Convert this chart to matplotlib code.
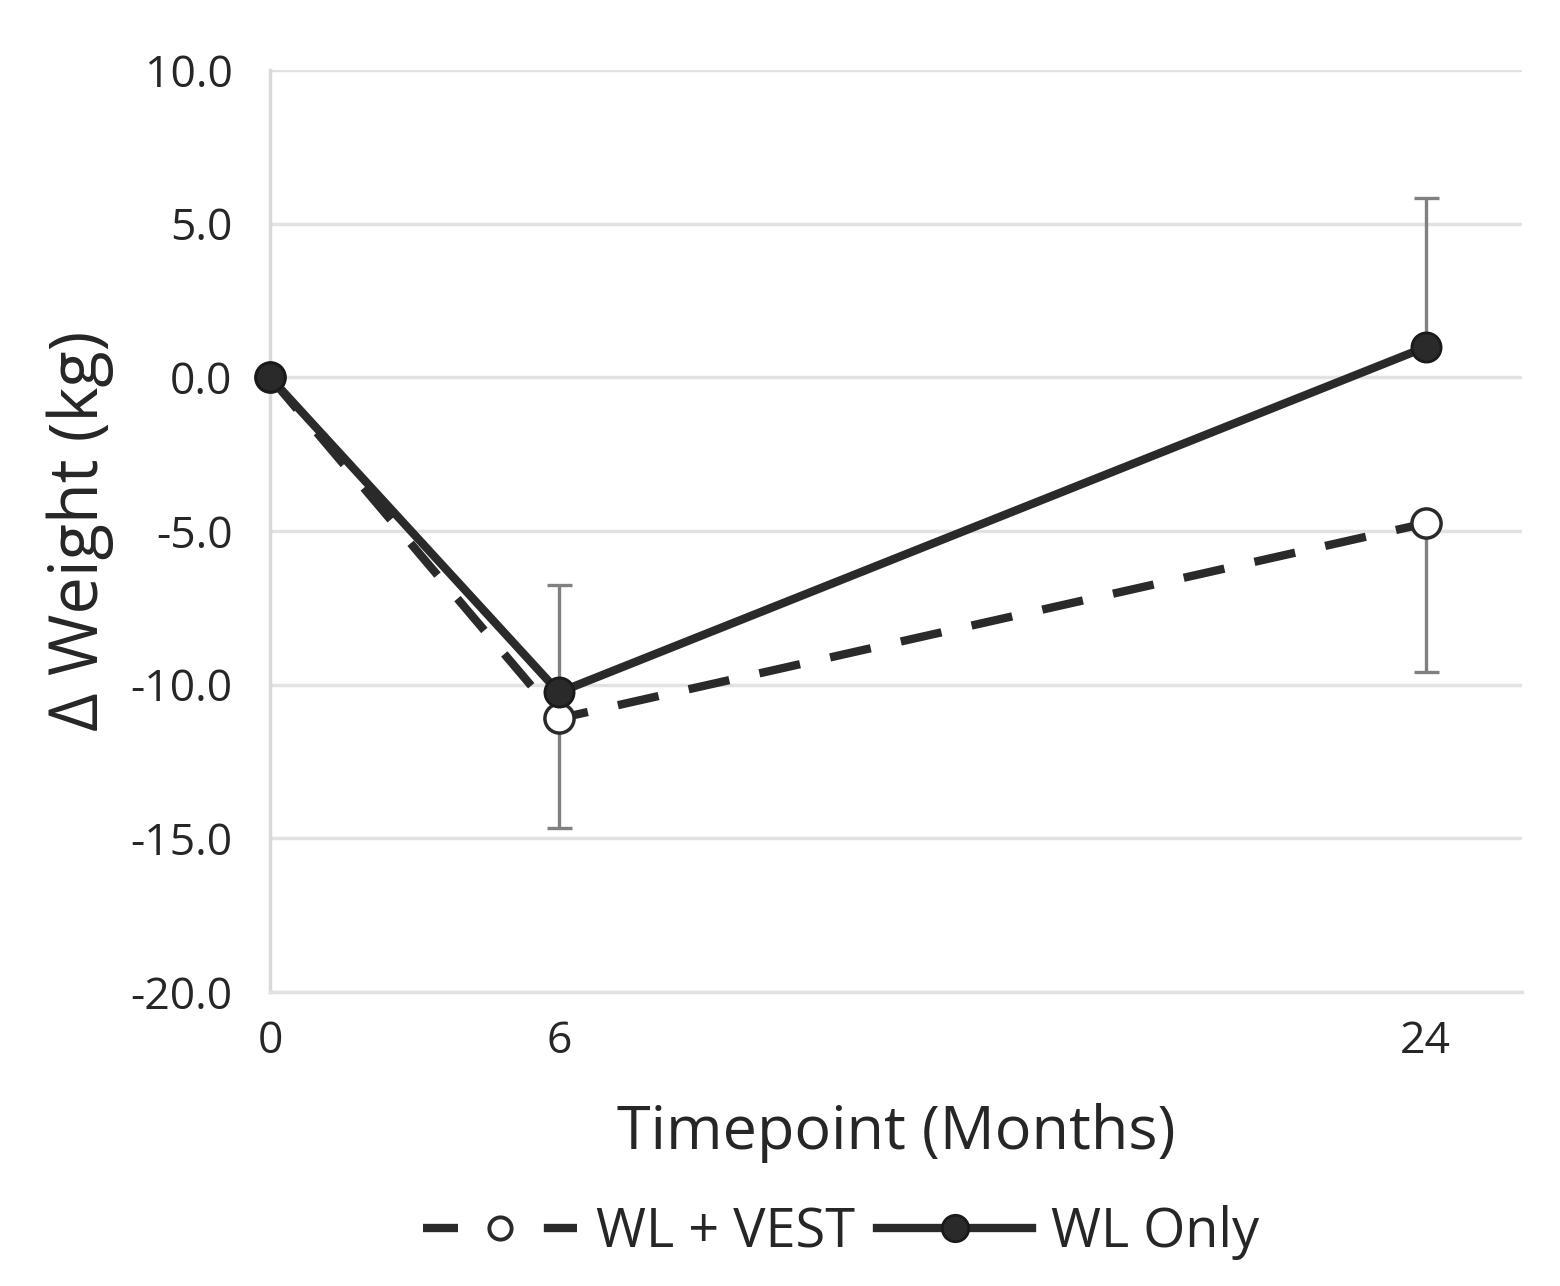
import matplotlib.pyplot as plt
from matplotlib.lines import Line2D
from matplotlib.ticker import FuncFormatter

plt.rcParams['font.family'] = ['Open Sans', 'DejaVu Sans']

# data
months = [0, 6, 24]
vest_mean = [0.0, -11.1, -4.75]
vest_err = [0.0, 3.55, 4.85]
wl_mean = [0.0, -10.25, 0.98]
wl_err = [0.0, 3.5, 4.85]
y_ticks = [10, 5, 0, -5, -10, -15, -20]

DARK = '#2a2a2a'
GRAY = '#808080'
LW = 6

fig = plt.figure(figsize=(15.6, 12.86), dpi=100)
ax = fig.add_axes([0.1731, 0.2286, 0.8025, 0.717])

# error bars: WL Only goes up, WL + VEST goes down
ax.errorbar(months[1:], wl_mean[1:], yerr=[[0, 0], wl_err[1:]], fmt='none',
            ecolor=GRAY, elinewidth=2.4, capsize=9, capthick=2.4, zorder=2)
ax.errorbar(months[1:], vest_mean[1:], yerr=[vest_err[1:], [0, 0]], fmt='none',
            ecolor=GRAY, elinewidth=2.4, capsize=9, capthick=2.4, zorder=2)

ax.plot(months, vest_mean, color=DARK, lw=LW, dashes=(5, 3.7),
        marker='o', markersize=21, markerfacecolor='white',
        markeredgecolor=DARK, markeredgewidth=2.5,
        zorder=3, clip_on=False)
ax.plot(months, wl_mean, color=DARK, lw=LW, marker='o', markersize=21,
        markerfacecolor=DARK, markeredgecolor='#1a1a1a', markeredgewidth=2,
        zorder=4, clip_on=False)

ax.set_xlim(0, 26)
ax.set_ylim(-20, 10)
ax.set_xticks(months)
ax.set_yticks(y_ticks)
ax.yaxis.set_major_formatter(FuncFormatter(lambda v, p: f"{v:.1f}"))
ax.tick_params(length=0, labelsize=32, colors='#262626')
ax.tick_params(axis='y', pad=27)
ax.tick_params(axis='x', pad=20)

ax.grid(axis='y', color='#e2e2e2', lw=2.5)
ax.set_axisbelow(True)
for s in ['top', 'right']:
    ax.spines[s].set_visible(False)
ax.spines['left'].set_color('#d9d9d9')
ax.spines['left'].set_linewidth(2.5)
ax.spines['bottom'].set_color('#e2e2e2')
ax.spines['bottom'].set_linewidth(2.5)

ax.set_xlabel('Timepoint (Months)', fontsize=44, color='#262626', labelpad=28)
ax.set_ylabel('Δ Weight (kg)', fontsize=48, color='#262626', labelpad=12)

# legend proxies (dash, marker, dash like the original)
h_vest = Line2D([], [], color=DARK, lw=LW, dashes=(4.2, 10.3), marker='o',
                markersize=16, markerfacecolor='white', markeredgecolor=DARK,
                markeredgewidth=2.8)
h_wl = Line2D([], [], color=DARK, lw=LW, marker='o', markersize=19,
              markerfacecolor=DARK, markeredgecolor='#1a1a1a', markeredgewidth=2)
fig.legend([h_vest, h_wl], ['WL + VEST', 'WL Only'], loc='lower center',
           bbox_to_anchor=(0.539, -0.018), ncol=2, frameon=False, fontsize=39,
           handlelength=2.86, columnspacing=0.4, handletextpad=0.35,
           labelcolor='#262626')

fig.savefig('out.png', dpi=100, facecolor='white')
